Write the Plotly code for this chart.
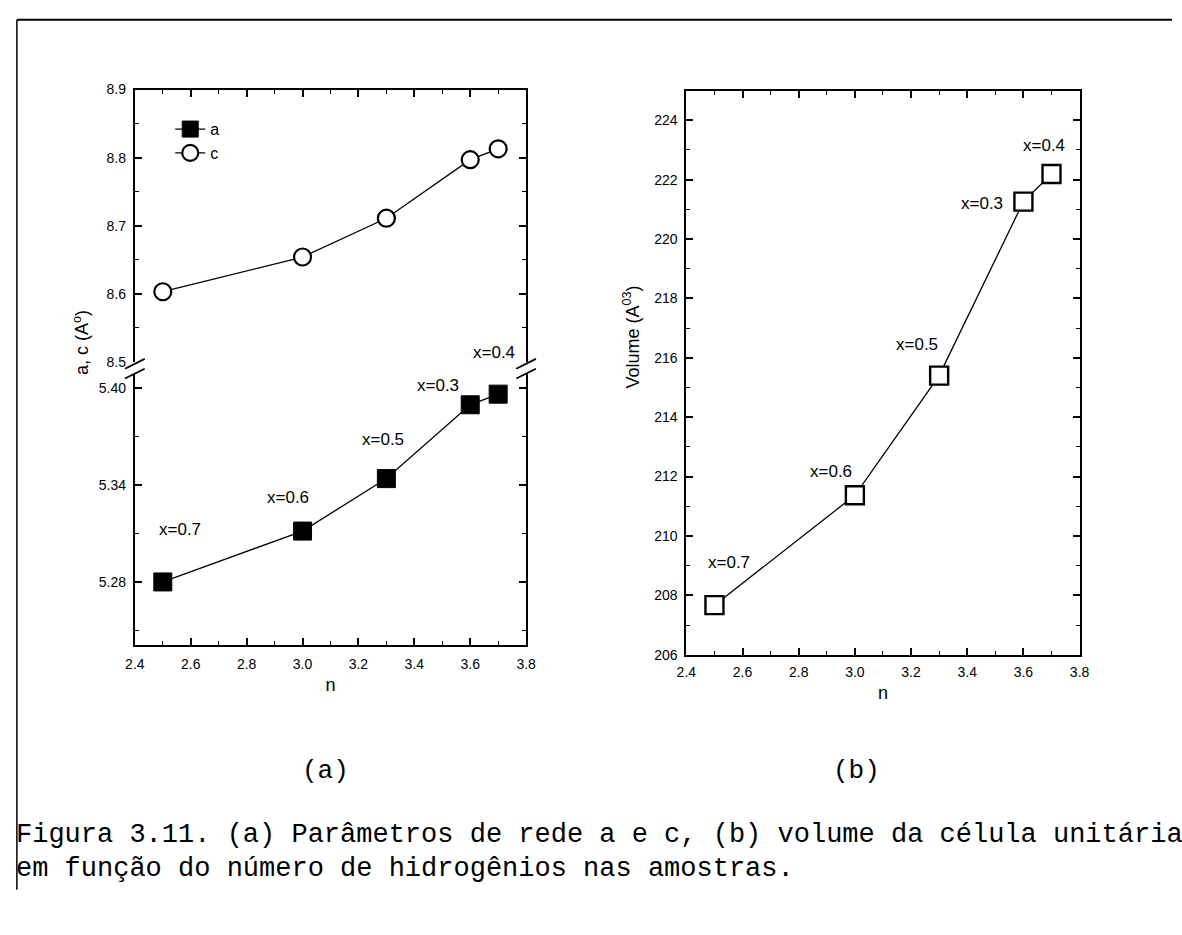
import plotly.graph_objects as go

W, H = 1182, 935

# ---- data -------------------------------------------------------------
n_vals = [2.5, 3.0, 3.3, 3.6, 3.7]                 # number of hydrogens
a_vals = [5.280, 5.3115, 5.344, 5.3897, 5.3963]    # lattice parameter a (Å)
c_vals = [8.603, 8.654, 8.711, 8.797, 8.813]       # lattice parameter c (Å)
vol_vals = [207.67, 211.37, 215.40, 221.26, 222.19]  # cell volume (Å^3)
x_labels = ["x=0.7", "x=0.6", "x=0.5", "x=0.3", "x=0.4"]

n_ticks = [2.4, 2.6, 2.8, 3.0, 3.2, 3.4, 3.6, 3.8]
a_ticks = [5.28, 5.34, 5.40]
a_minor = [5.25, 5.31, 5.37]
c_ticks = [8.5, 8.6, 8.7, 8.8, 8.9]
vol_ticks = [206, 208, 210, 212, 214, 216, 218, 220, 222, 224]

caption_1 = "Figura 3.11. (a) Parâmetros de rede a e c, (b) volume da célula unitária"
caption_2 = "em função do número de hidrogênios nas amostras."


def px(x):
    return x / W


def py(y):
    return 1 - y / H


SANS = "Arial, Liberation Sans, Helvetica, sans-serif"
MONO = "Courier New, Liberation Mono, monospace"
TICKFONT = dict(family=SANS, size=14, color="black")
LABELFONT = dict(family=SANS, size=17, color="black")
TITLEFONT = dict(family=SANS, size=18, color="black")

fig = go.Figure()

fig.add_trace(go.Scatter(
    x=n_vals, y=a_vals, xaxis="x", yaxis="y", name="a",
    mode="lines+markers",
    line=dict(color="black", width=1.3),
    marker=dict(symbol="square", size=18, color="black", line=dict(color="black", width=1)),
))
fig.add_trace(go.Scatter(
    x=n_vals, y=c_vals, xaxis="x3", yaxis="y3", name="c",
    mode="lines+markers",
    line=dict(color="black", width=1.3),
    marker=dict(symbol="circle", size=17, color="white", line=dict(color="black", width=2.2)),
))
fig.add_trace(go.Scatter(
    x=n_vals, y=vol_vals, xaxis="x2", yaxis="y2", name="V", showlegend=False,
    mode="lines+markers",
    line=dict(color="black", width=1.3),
    marker=dict(symbol="square", size=18, color="white", line=dict(color="black", width=2.4)),
))

left_dom = [px(127), px(525)]
right_dom = [px(688), px(1088)]
upper_dom = [py(360), py(83)]
lower_dom = [py(648), py(372)]
vol_dom = [py(658), py(84)]

axis_common = dict(
    showline=True, linecolor="black", linewidth=2,
    ticks="inside", ticklen=7, tickwidth=1.6, tickcolor="black",
    showgrid=False, zeroline=False, tickfont=TICKFONT,
)

x_common = dict(
    axis_common, range=[2.4, 3.8], tickvals=n_ticks,
    ticktext=[f"{v:.1f}" for v in n_ticks],
    minor=dict(dtick=0.1, tick0=2.4, ticks="inside", ticklen=4, tickwidth=1.3, tickcolor="black"),
)

fig.update_layout(
    width=W, height=H,
    margin=dict(l=0, r=0, t=0, b=0),
    paper_bgcolor="white", plot_bgcolor="white",
    xaxis=dict(x_common, domain=left_dom, anchor="y", ticklabelstandoff=5,
               title=dict(text="n", font=TITLEFONT, standoff=8)),
    xaxis3=dict(x_common, domain=left_dom, anchor="y3", side="top", showticklabels=False),
    xaxis2=dict(x_common, domain=right_dom, anchor="y2", mirror="allticks", ticklabelstandoff=3,
                title=dict(text="n", font=TITLEFONT, standoff=8)),
    yaxis=dict(axis_common, domain=lower_dom, anchor="x", range=[5.241, 5.409],
               tickvals=a_ticks, ticktext=[f"{v:.2f}" for v in a_ticks], mirror="allticks",
               ticklabelstandoff=4,
               minor=dict(tickvals=a_minor, ticks="inside", ticklen=4, tickwidth=1.3, tickcolor="black")),
    yaxis3=dict(axis_common, domain=upper_dom, anchor="x3", range=[8.5, 8.9],
                tickvals=c_ticks, ticktext=[f"{v:.1f}" for v in c_ticks], mirror="allticks",
                ticklabelstandoff=4,
                minor=dict(dtick=0.05, tick0=8.5, ticks="inside", ticklen=4, tickwidth=1.3, tickcolor="black")),
    yaxis2=dict(axis_common, domain=vol_dom, anchor="x2", range=[206, 225],
                tickvals=vol_ticks, ticktext=[str(v) for v in vol_ticks], mirror="allticks",
                ticklabelstandoff=4,
                minor=dict(dtick=1, tick0=206, ticks="inside", ticklen=4, tickwidth=1.3, tickcolor="black")),
    legend=dict(x=px(163), y=py(106), xanchor="left", yanchor="top",
                font=dict(family=SANS, size=16, color="black"),
                bgcolor="rgba(0,0,0,0)", tracegroupgap=0),
    showlegend=True,
)

# composition labels next to each point (pixel offsets from the marker)
left_off = [(17, 52), (-15, 34), (-3, 39), (-32, 19), (-4, 42)]
right_off = [(15, 43), (-24, 24), (-22, 31), (-41, -2), (-7, 29)]
annots = []
for n, a, lab, (dx, dy) in zip(n_vals, a_vals, x_labels, left_off):
    annots.append(dict(x=n, y=a, xref="x", yref="y", text=lab, showarrow=False,
                       xanchor="center", yanchor="middle",
                       xshift=dx, yshift=dy, font=LABELFONT))
for n, v, lab, (dx, dy) in zip(n_vals, vol_vals, x_labels, right_off):
    annots.append(dict(x=n, y=v, xref="x2", yref="y2", text=lab, showarrow=False,
                       xanchor="center", yanchor="middle",
                       xshift=dx, yshift=dy, font=LABELFONT))


def paper_text(x, y, text, font, **kw):
    return dict(x=px(x), y=py(y), xref="paper", yref="paper", text=text, showarrow=False,
                xanchor=kw.pop("xanchor", "center"), yanchor="middle", font=font, **kw)


# y-axis titles
annots.append(paper_text(72, 340, "a, c (A<sup>o</sup>)", TITLEFONT, textangle=-90))
annots.append(paper_text(632, 335, "Volume (A<sup>03</sup>)", TITLEFONT, textangle=-90))

# panel letters and caption
annots.append(paper_text(321, 776, "(a)", dict(family=MONO, size=26, color="black")))
annots.append(paper_text(861, 776, "(b)", dict(family=MONO, size=26, color="black")))
annots.append(paper_text(4, 841, caption_1, dict(family=MONO, size=27, color="black"), xanchor="left"))
annots.append(paper_text(4, 876, caption_2, dict(family=MONO, size=27, color="black"), xanchor="left"))
fig.update_layout(annotations=annots)

# axis-break marks and page frame
shapes = []
for xs in (127, 525):
    for yb in (362, 372):
        shapes.append(dict(type="line", xref="paper", yref="paper",
                           x0=px(xs - 10), y0=py(yb + 5), x1=px(xs + 10), y1=py(yb - 5),
                           line=dict(color="black", width=1.8)))
shapes.append(dict(type="line", xref="paper", yref="paper", x0=px(7), y0=py(12), x1=1, y1=py(12),
                   line=dict(color="black", width=2)))
shapes.append(dict(type="line", xref="paper", yref="paper", x0=px(7), y0=py(12), x1=px(7), y1=py(897),
                   line=dict(color="black", width=1.5)))
fig.update_layout(shapes=shapes)

fig.write_html("out.html")
